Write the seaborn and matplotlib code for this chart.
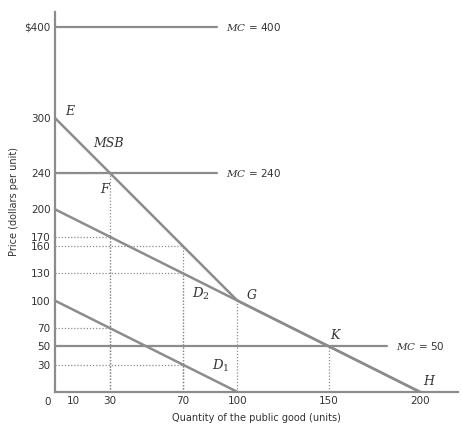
import numpy as np
import pandas as pd
import matplotlib
matplotlib.use("Agg")
import matplotlib.pyplot as plt
import seaborn as sns

# Demand curves (quantity, price)
d1_q = [0, 100]
d1_p = [100, 0]
d2_q = [0, 200]
d2_p = [200, 0]
msb_q = [0, 100, 200]
msb_p = [300, 100, 0]

# Marginal cost levels and how far the lines run
mc_levels = [400, 240, 50]
mc_end = [89, 89, 182]

# Dotted guide points (quantity, price)
guide_q = [30, 30, 30, 70, 70, 70, 100, 150]
guide_p = [240, 170, 70, 160, 130, 30, 100, 50]

x_ticks = [10, 30, 70, 100, 150, 200]
y_ticks = [30, 50, 70, 100, 130, 160, 170, 200, 240, 300, 400]
y_ticklabels = ["30", "50", "70", "100", "130", "160", "170", "200", "240", "300", "$400"]

sns.set_style("white")
plt.rcParams['font.family'] = ['DejaVu Sans']
plt.rcParams['mathtext.fontset'] = 'dejavuserif'

gray = '#8c8c8c'
fig = plt.figure(figsize=(4.61, 4.26), dpi=100)
ax = fig.add_axes([0.119, 0.080, 0.875, 0.892])

curves = pd.concat([
    pd.DataFrame({'q': d1_q, 'p': d1_p, 'curve': 'D1'}),
    pd.DataFrame({'q': d2_q, 'p': d2_p, 'curve': 'D2'}),
    pd.DataFrame({'q': msb_q, 'p': msb_p, 'curve': 'MSB'}),
])
sns.lineplot(data=curves, x='q', y='p', units='curve', estimator=None, sort=False,
             color=gray, lw=1.8, ax=ax)

mc_df = pd.DataFrame({'q': [0] * 3 + mc_end, 'p': mc_levels * 2, 'mc': list(range(3)) * 2})
sns.lineplot(data=mc_df, x='q', y='p', units='mc', estimator=None, sort=False,
             color=gray, lw=1.6, ax=ax)

# dotted guides
for q, p in zip(guide_q, guide_p):
    ax.plot([q, q], [0, p], ls=(0, (1, 1.5)), color=gray, lw=0.9)
    if q <= 70:
        ax.plot([0, q], [p, p], ls=(0, (1, 1.5)), color=gray, lw=0.9)

ax.set_xlim(0, 221)
ax.set_ylim(0, 416)
ax.set_xticks(x_ticks)
ax.set_yticks(y_ticks)
ax.set_yticklabels(y_ticklabels)
ax.tick_params(axis='both', length=0, labelsize=7.5, colors='#333333', pad=3)
ax.text(-4, -6, '0', ha='center', va='top', fontsize=7.5, color='#333333')

for side in ['top', 'right']:
    ax.spines[side].set_visible(False)
for side in ['left', 'bottom']:
    ax.spines[side].set_color(gray)
    ax.spines[side].set_linewidth(1.6)

ax.set_xlabel('Quantity of the public good (units)', fontsize=7, color='#333333', labelpad=5)
ax.set_ylabel('Price (dollars per unit)', fontsize=7, color='#333333', labelpad=4)

serif = dict(family='DejaVu Serif', style='italic', fontsize=9, color='#333333')
for lvl, end in zip(mc_levels, mc_end):
    ax.text(end + 5, lvl, '$MC$ = %d' % lvl, va='center', fontsize=7.5, color='#333333')

ax.text(5.5, 303, 'E', **serif)
ax.text(21, 268, 'MSB', **serif)
ax.text(25, 218, 'F', **serif)
ax.text(75, 103, '$D_2$', fontsize=9.5, color='#333333')
ax.text(105, 102, 'G', **serif)
ax.text(151, 58, 'K', **serif)
ax.text(202, 8, 'H', **serif)
ax.text(86, 24, '$D_1$', fontsize=9.5, color='#333333')

fig.savefig('out.png', dpi=100)
